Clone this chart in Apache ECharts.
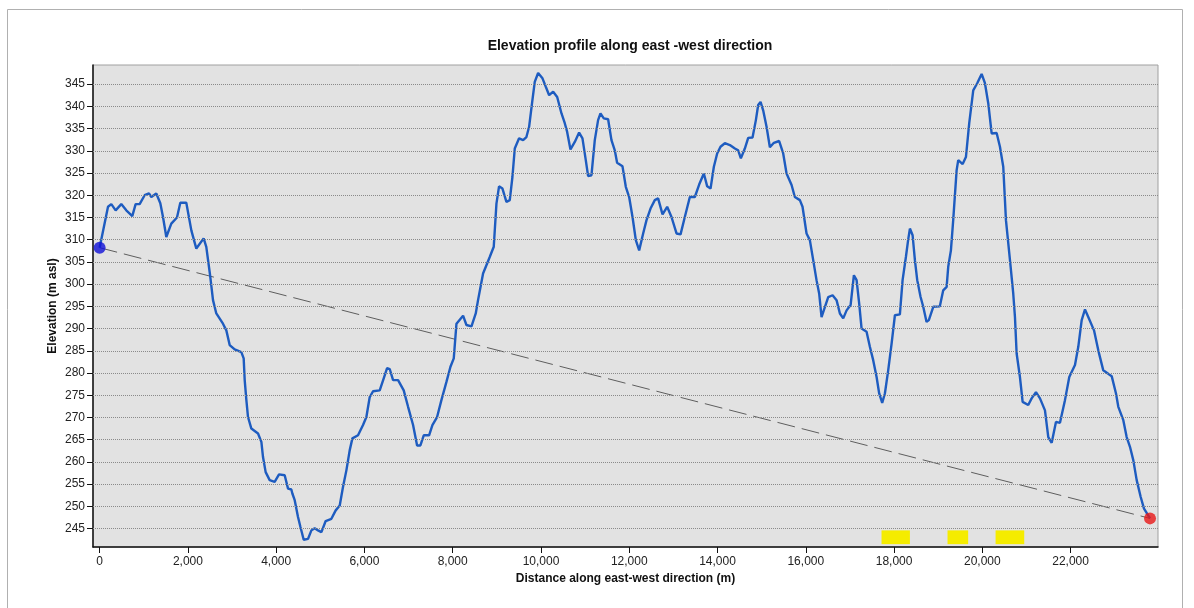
<!DOCTYPE html>
<html>
<head>
<meta charset="utf-8">
<script src="https://cdn.jsdelivr.net/npm/echarts@6/dist/echarts.min.js"></script>
<style>
html,body{margin:0;padding:0;background:#fff;}
#c{width:1194px;height:608px;}
</style>
</head>
<body>
<div id="c"></div>
<script>
// Distance along profile (m)
const distance = [0,190,265,363,491,604,740,816,907,1020,1118,1171,1284,1375,1436,1511,1624,1753,1828,1964,2078,2191,2357,2417,2508,2569,2644,2795,2871,2947,3060,3211,3264,3287,3325,3362,3438,3589,3665,3702,3762,3853,3966,4065,4193,4269,4344,4367,4420,4495,4549,4624,4722,4798,4873,4949,5025,5122,5251,5349,5440,5515,5591,5666,5727,5855,5968,6044,6120,6195,6346,6437,6513,6573,6649,6762,6890,6989,7102,7193,7268,7344,7465,7540,7646,7744,7858,7949,8024,8085,8235,8311,8425,8522,8574,8688,8839,8930,8991,9050,9127,9217,9293,9353,9406,9504,9595,9670,9731,9806,9859,9935,10034,10109,10185,10276,10367,10465,10539,10592,10668,10766,10864,10940,11015,11068,11144,11219,11294,11348,11423,11521,11597,11672,11725,11847,11922,11998,12074,12149,12225,12315,12391,12482,12579,12654,12754,12859,12957,13071,13162,13259,13373,13486,13584,13690,13766,13842,13917,13992,14068,14166,14279,14393,14468,14529,14619,14695,14793,14869,14921,14975,15034,15111,15186,15277,15397,15488,15564,15678,15752,15866,15926,16017,16092,16168,16243,16303,16357,16395,16508,16607,16697,16773,16848,16924,17015,17090,17151,17210,17264,17377,17452,17527,17604,17663,17731,17792,17867,17944,18019,18132,18193,18268,18320,18359,18420,18472,18525,18601,18661,18736,18788,18888,19037,19114,19191,19227,19288,19340,19417,19454,19554,19628,19703,19794,19884,19984,20059,20134,20211,20324,20399,20474,20535,20626,20700,20739,20777,20852,20913,21040,21117,21215,21306,21419,21494,21571,21668,21759,21872,21970,22099,22174,22251,22326,22400,22530,22627,22740,22931,23028,23081,23194,23270,23345,23420,23497,23588,23663,23799];
// Elevation (m asl)
const elevation = [308.2,317.4,318.0,316.6,318.0,316.6,315.3,318.0,318.0,320.0,320.4,319.6,320.4,318.2,315.1,310.6,313.6,315.0,318.3,318.3,312.1,308.0,310.3,308.4,301.6,296.4,293.4,291.1,289.6,286.3,285.3,284.7,283.3,278.4,273.9,270.1,267.5,266.4,264.5,261.1,257.7,255.9,255.5,257.2,257.0,254.0,253.8,252.9,251.4,247.6,245.4,242.5,242.7,244.6,245.1,244.6,244.2,246.7,247.2,249.1,250.2,254.4,258.1,262.6,265.3,266.0,268.3,270.1,274.6,275.9,276.1,278.8,281.1,280.9,278.4,278.4,276.1,272.4,268.3,263.7,263.7,266.0,266.0,268.3,270.1,273.9,278.0,281.4,283.3,291.1,292.9,290.8,290.5,293.4,296.4,302.4,306.1,308.4,318.1,322.0,321.5,318.5,318.9,324.1,330.5,332.8,332.4,333.1,335.4,341.4,345.5,347.5,346.3,344.4,342.5,343.3,342.1,338.4,336.2,334.3,330.3,332.0,334.1,332.8,327.9,324.3,324.5,332.4,336.9,338.4,337.3,337.1,332.4,330.1,327.3,326.5,321.9,319.6,315.1,309.9,307.6,311.4,314.4,317.0,318.9,319.3,315.7,317.4,315.1,311.4,311.2,315.1,319.6,319.6,322.4,324.9,322.0,321.5,326.4,329.4,330.9,331.7,331.3,330.5,330.1,328.3,330.5,332.9,333.0,336.9,340.3,341.0,339.1,335.4,330.8,331.8,332.2,329.4,324.9,322.3,319.6,318.9,317.4,311.4,309.9,305.4,300.9,297.9,292.6,292.3,297.1,297.5,296.4,293.4,292.3,294.1,295.3,302.0,300.9,295.6,290.0,289.3,285.9,282.9,279.1,275.4,273.3,275.4,280.6,286.6,293.0,293.2,300.9,306.1,310.0,312.5,311.0,305.4,300.9,297.1,294.9,291.5,291.9,294.9,295.0,298.6,299.4,303.9,307.6,314.4,325.6,327.9,327.0,328.6,336.2,343.6,345.2,347.3,345.2,340.7,333.9,334.0,330.9,326.4,314.4,305.4,297.9,292.6,284.4,279.1,273.5,272.8,274.3,275.7,274.3,271.6,265.6,264.3,269.0,268.8,273.9,279.1,281.8,285.9,291.9,294.3,292.6,289.6,285.1,280.6,279.3,275.4,272.4,269.4,265.6,263.4,260.4,255.9,252.1,249.5,247.3];
// Highlighted segments along the profile (start, end distance in m)
const highlightStart = [17716, 19211, 20300];
const highlightEnd = [18359, 19679, 20949];
const highlightLow = 241.5;
const highlightHigh = 244.6;
// Tick labels
const xTicks = [0,2000,4000,6000,8000,10000,12000,14000,16000,18000,20000,22000];
const yTicks = [245,250,255,260,265,270,275,280,285,290,295,300,305,310,315,320,325,330,335,340,345];

const profile = distance.map((d, i) => [d, elevation[i]]);
const first = profile[0];
const last = profile[profile.length - 1];
const areas = highlightStart.map((s, i) => [
  {xAxis: s, yAxis: highlightLow},
  {xAxis: highlightEnd[i], yAxis: highlightHigh}
]);
const gridLines = yTicks.map(v => ({yAxis: v}));

const FONT = 'Liberation Sans';
const chart = echarts.init(document.getElementById('c'), null, {renderer: 'canvas'});
chart.setOption({
  animation: false,
  backgroundColor: '#ffffff',
  title: {
    text: 'Elevation profile along east -west direction',
    left: 625, top: 34, textAlign: 'center',
    textStyle: {fontFamily: FONT, fontSize: 14, fontWeight: 'bold', color: '#111'}
  },
  graphic: [{
    type: 'rect', silent: true, z: -10,
    shape: {x: 7.5, y: 9.5, width: 1175, height: 700},
    style: {fill: 'none', stroke: '#b0b0b0', lineWidth: 1}
  }],
  grid: {
    left: 93, top: 65, right: 36, bottom: 61,
    show: true, backgroundColor: '#e2e2e2', borderColor: '#a0a0a0', borderWidth: 1
  },
  xAxis: {
    type: 'value', min: -150, max: 23980,
    name: 'Distance along east-west direction (m)',
    nameLocation: 'middle', nameGap: 26, nameMoveOverlap: false,
    nameTextStyle: {fontFamily: FONT, fontSize: 12, fontWeight: 'bold', color: '#111'},
    axisLine: {show: true, onZero: false, lineStyle: {color: '#111', width: 1.5}},
    axisTick: {show: true, length: 6, customValues: xTicks, lineStyle: {color: '#111'}},
    axisLabel: {customValues: xTicks, margin: 9, fontFamily: FONT, fontSize: 12, color: '#222',
      formatter: v => v.toLocaleString('en-US')},
    splitLine: {show: false}
  },
  yAxis: {
    type: 'value', min: 240.86, max: 349.3,
    name: 'Elevation (m asl)',
    nameLocation: 'middle', nameGap: 34, nameRotate: 90, nameMoveOverlap: false,
    nameTextStyle: {fontFamily: FONT, fontSize: 12, fontWeight: 'bold', color: '#111'},
    axisLine: {show: true, onZero: false, lineStyle: {color: '#111', width: 1.5}},
    axisTick: {show: true, length: 6, customValues: yTicks, lineStyle: {color: '#111'}},
    axisLabel: {customValues: yTicks, margin: 8, fontFamily: FONT, fontSize: 12, color: '#222'},
    splitLine: {show: false}
  },
  series: [
    {
      type: 'line', data: [], silent: true, z: 1,
      markLine: {
        silent: true, symbol: 'none', label: {show: false},
        lineStyle: {color: '#8a8a8a', type: [1, 1], width: 1},
        data: gridLines
      }
    },
    {
      type: 'line', data: [first, last], showSymbol: false, silent: true, z: 2,
      lineStyle: {color: '#5e5e5e', width: 1, type: [18, 7]},
      markArea: {
        silent: true, itemStyle: {color: '#f5ec00'}, label: {show: false},
        data: areas
      }
    },
    {
      type: 'line', data: profile, showSymbol: false, silent: true, z: 3,
      lineStyle: {color: '#1e5cc0', width: 2.4}
    },
    {
      type: 'scatter', silent: true, z: 4, symbolSize: 12,
      data: [
        {value: first, itemStyle: {color: '#1010d8'}},
        {value: last, itemStyle: {color: '#e81818'}}
      ]
    }
  ]
});
</script>
</body>
</html>
